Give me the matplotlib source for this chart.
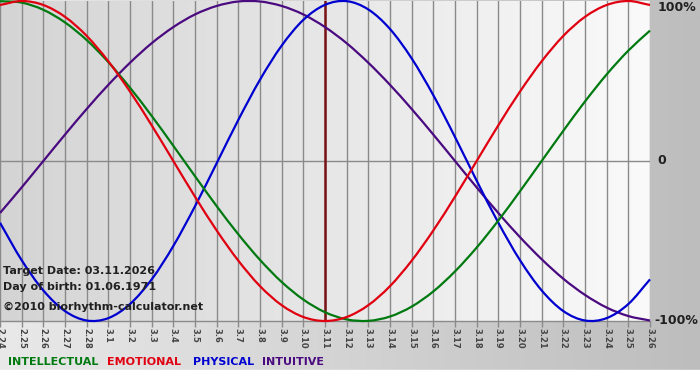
import numpy as np
import matplotlib
matplotlib.use("Agg")
import matplotlib.pyplot as plt
from matplotlib.colors import LinearSegmentedColormap
from matplotlib.path import Path
from matplotlib.patches import PathPatch

# ---- data ----
day_labels = ["2.24", "2.25", "2.26", "2.27", "2.28", "3.1", "3.2", "3.3", "3.4", "3.5",
              "3.6", "3.7", "3.8", "3.9", "3.10", "3.11", "3.12", "3.13", "3.14", "3.15",
              "3.16", "3.17", "3.18", "3.19", "3.20", "3.21", "3.22", "3.23", "3.24", "3.25", "3.26"]

intellectual = [0.999, 0.990, 0.945, 0.866, 0.756, 0.618, 0.458, 0.282, 0.095, -0.095,
                -0.282, -0.458, -0.618, -0.756, -0.866, -0.945, -0.990, -0.999, -0.972, -0.910,
                -0.815, -0.690, -0.541, -0.372, -0.189, 0.000, 0.189, 0.372, 0.541, 0.690, 0.815]

emotional = [0.975, 1.000, 0.975, 0.901, 0.782, 0.623, 0.434, 0.223, 0.000, -0.223,
             -0.434, -0.623, -0.782, -0.901, -0.975, -1.000, -0.975, -0.901, -0.782, -0.623,
             -0.434, -0.223, 0.000, 0.223, 0.434, 0.623, 0.782, 0.901, 0.975, 1.000, 0.975]

physical = [-0.386, -0.620, -0.809, -0.938, -0.997, -0.982, -0.894, -0.740, -0.531, -0.283,
            -0.014, 0.257, 0.508, 0.721, 0.882, 0.976, 0.999, 0.947, 0.825, 0.641,
            0.411, 0.150, -0.123, -0.386, -0.620, -0.809, -0.938, -0.997, -0.982, -0.894, -0.740]

intuitive = [-0.325, -0.165, 0.000, 0.165, 0.325, 0.476, 0.614, 0.736, 0.837, 0.916,
             0.969, 0.997, 0.997, 0.969, 0.916, 0.837, 0.736, 0.614, 0.476, 0.325,
             0.165, 0.000, -0.165, -0.325, -0.476, -0.614, -0.736, -0.837, -0.916, -0.969, -0.997]

target_label = "3.11"
right_labels = ["100%", "0", "-100%"]
right_values = [1.0, 0.0, -1.0]

info_lines = ["Target Date: 03.11.2026", "Day of birth: 01.06.1971", "\u00a92010 biorhythm-calculator.net"]
legend_names = ["INTELLECTUAL", "EMOTIONAL", "PHYSICAL", "INTUITIVE"]

# ---- styles ----
C_INT = "#007a10"
C_EMO = "#e00010"
C_PHY = "#0000d0"
C_ITU = "#4a0a80"

W, H = 700, 380
fig = plt.figure(figsize=(W / 100, H / 100), dpi=100)

# background gradient for the whole figure
bg = fig.add_axes([0, 0, 1, 1], zorder=-10)
grad = np.linspace(0, 1, 256)[None, :]
bg_cmap = LinearSegmentedColormap.from_list("bg", ["#e9e9e9", "#bdbdbd"])
bg.imshow(grad, cmap=bg_cmap, aspect="auto", extent=[0, 1, 0, 1])
bg.add_patch(plt.Rectangle((0, 0), 1, 10 / H, color="white", zorder=2))
bg.set_xlim(0, 1)
bg.set_ylim(0, 1)
bg.axis("off")

ax = fig.add_axes([0, 59 / H, 650 / W, 320 / H])
ax.set_xlim(0, len(day_labels) - 1)
ax.set_ylim(-1, 1)
pa_cmap = LinearSegmentedColormap.from_list("pa", ["#d4d4d4", "#fafafa"])
ax.imshow(grad, cmap=pa_cmap, aspect="auto", extent=[0, len(day_labels) - 1, -1, 1], zorder=0)

x = np.arange(len(day_labels))
for xi in x:
    ax.axvline(xi, color="#8a8a8a", lw=1.0, zorder=1)
ax.axhline(0, color="#8a8a8a", lw=1.0, zorder=1)
ax.axhline(-1, color="#8a8a8a", lw=1.0, zorder=1, clip_on=False)

ti = day_labels.index(target_label)
ax.axvline(ti, color="#7a1414", lw=1.8, zorder=2)


def smooth_path(xs, ys):
    """Cubic Bezier path passing through the data points (Catmull-Rom tangents)."""
    xs = np.asarray(xs, float)
    ys = np.asarray(ys, float)
    n = len(xs)
    dx = np.gradient(xs)
    dy = np.gradient(ys)
    verts = [(xs[0], ys[0])]
    codes = [Path.MOVETO]
    for i in range(n - 1):
        c1 = (xs[i] + dx[i] / 3, ys[i] + dy[i] / 3)
        c2 = (xs[i + 1] - dx[i + 1] / 3, ys[i + 1] - dy[i + 1] / 3)
        verts += [c1, c2, (xs[i + 1], ys[i + 1])]
        codes += [Path.CURVE4] * 3
    return Path(verts, codes)


for series, col in [(intuitive, C_ITU), (physical, C_PHY), (intellectual, C_INT), (emotional, C_EMO)]:
    ax.add_patch(PathPatch(smooth_path(x, series), facecolor="none", edgecolor=col,
                           lw=1.6, zorder=3, clip_on=False))

for sp in ax.spines.values():
    sp.set_visible(False)
ax.set_yticks([])
ax.set_xticks(x)
ax.set_xticklabels(day_labels, rotation=270, fontsize=6, fontweight="bold", color="#444444")
ax.tick_params(axis="x", length=4, width=1, color="#8a8a8a", pad=1)

# right side labels
for lab, v in zip(right_labels, right_values):
    yy = v if -1 < v < 1 else (0.96 if v > 0 else -1.0)
    xo = 0.35 if v >= 0 else 0.2
    ax.text(len(day_labels) - 1 + xo, yy, lab, fontsize=9, fontweight="bold",
            color="#202020", va="center", ha="left", clip_on=False)

# info text
info_y = [271, 287, 307]
for t, yp in zip(info_lines, info_y):
    fig.text(3 / W, 1 - yp / H, t, fontsize=8, fontweight="bold", color="#202020",
             va="center", ha="left", zorder=5)

# legend text
leg_x = [8, 107, 193, 262]
for name, col, lx in zip(legend_names, [C_INT, C_EMO, C_PHY, C_ITU], leg_x):
    fig.text(lx / W, 1 - 362 / H, name, fontsize=8, fontweight="bold", color=col,
             va="center", ha="left")

fig.savefig("out.png", dpi=100)
